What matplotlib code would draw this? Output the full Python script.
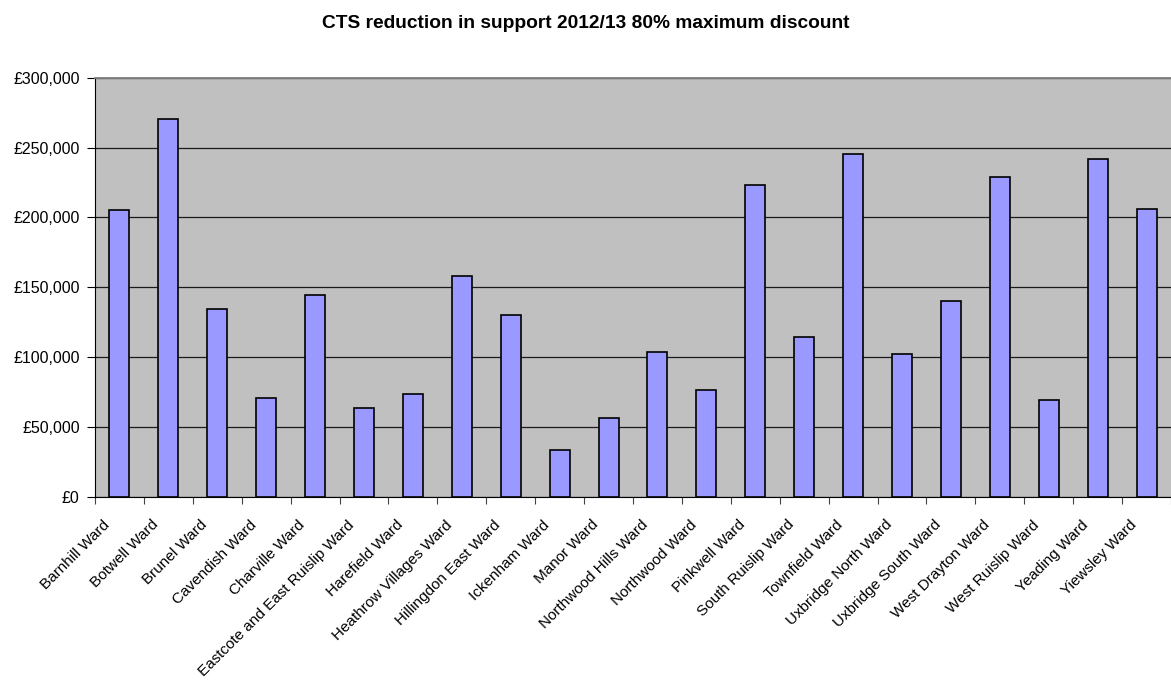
import matplotlib.pyplot as plt
import matplotlib.ticker as mtick
from matplotlib.transforms import ScaledTranslation

wards = [
    'Barnhill Ward', 'Botwell Ward', 'Brunel Ward', 'Cavendish Ward', 'Charville Ward',
    'Eastcote and East Ruislip Ward', 'Harefield Ward', 'Heathrow Villages Ward',
    'Hillingdon East Ward', 'Ickenham Ward', 'Manor Ward', 'Northwood Hills Ward',
    'Northwood Ward', 'Pinkwell Ward', 'South Ruislip Ward', 'Townfield Ward',
    'Uxbridge North Ward', 'Uxbridge South Ward', 'West Drayton Ward', 'West Ruislip Ward',
    'Yeading Ward', 'Yiewsley Ward',
]
reduction = [
    205300, 270200, 134400, 70900, 144400,
    63500, 73500, 158000,
    130300, 33200, 56400, 103400,
    76200, 223000, 114600, 245600,
    102100, 140300, 228700, 69500,
    241600, 206200,
]
y_ticks = [0, 50000, 100000, 150000, 200000, 250000, 300000]

plt.rcParams['font.family'] = ['Liberation Sans', 'DejaVu Sans']

fig = plt.figure(figsize=(11.71, 6.85), dpi=100)
ax = fig.add_axes([0.0811, 0.2749, 0.9189, 0.6117])
ax.set_facecolor('#c0c0c0')

x = range(len(wards))
ax.bar(x, reduction, width=0.41, color='#9999ff', edgecolor='black', linewidth=1.2, zorder=3)

ax.set_xlim(-0.5, len(wards) - 0.5)
ax.set_ylim(0, 300000)
ax.set_yticks(y_ticks)
ax.yaxis.set_major_formatter(mtick.FuncFormatter(lambda v, _: f'£{v:,.0f}'))
ax.grid(axis='y', color='#1a1a1a', linewidth=0.9, zorder=1)

# boundary ticks between categories, labels centred under the bars
ax.set_xticks([i - 0.5 for i in range(len(wards) + 1)])
ax.set_xticklabels([])
ax.set_xticks(list(x), minor=True)
ax.set_xticklabels(wards, minor=True, rotation=45, ha='right', va='top',
                   rotation_mode='anchor', fontsize=11)
ax.tick_params(axis='x', which='minor', length=0, pad=0)
ax.tick_params(axis='x', which='major', length=5, color='#444444', direction='out')
ax.tick_params(axis='y', length=6, direction='out', pad=5, labelsize=11.5)

shift = ScaledTranslation(-0.17, -0.21, fig.dpi_scale_trans)
for lbl in ax.get_xticklabels(minor=True):
    lbl.set_transform(lbl.get_transform() + shift)

ax.spines['top'].set_color('#808080')
ax.spines['top'].set_linewidth(1.3)
ax.spines['right'].set_visible(False)
ax.spines['left'].set_color('black')
ax.spines['bottom'].set_color('black')

fig.text(0.5, 1 - 28 / 685, 'CTS reduction in support 2012/13 80% maximum discount',
         ha='center', va='baseline', fontsize=13.8, fontweight='bold')

fig.savefig('out.png', dpi=100)
